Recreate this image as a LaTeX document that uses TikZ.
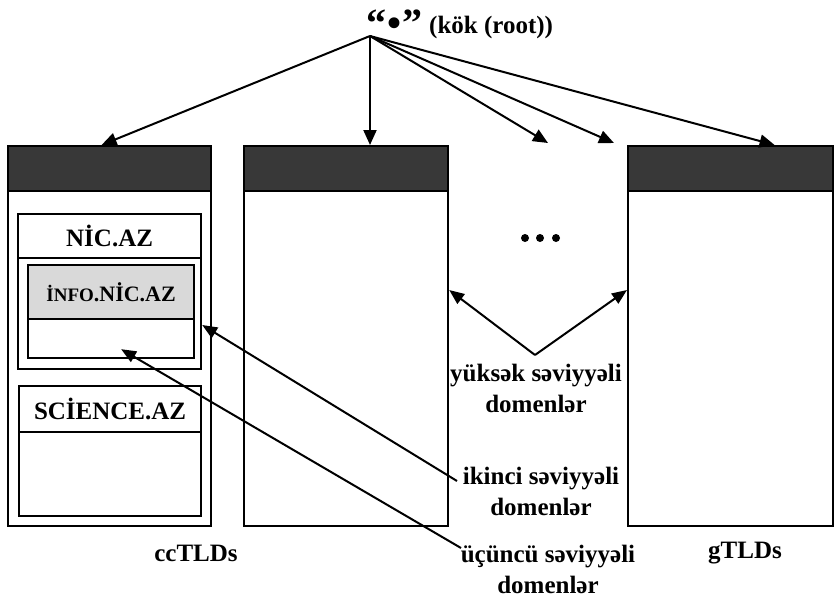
\documentclass[tikz,border=0pt]{standalone}
\usepackage{fontspec}
\setmainfont{Liberation Serif}
\usetikzlibrary{arrows.meta}
\begin{document}
\begin{tikzpicture}[x=1pt,y=-1pt,
  lab/.style={font=\bfseries\fontsize{25}{31}\selectfont, align=center, inner sep=0pt},
  frame/.style={draw, line width=2.2pt, anchor=north west, inner sep=0pt},
  hdr/.style={frame, fill=black!78, minimum height=45pt},
  arr/.style={line width=2pt, -{Triangle[length=15pt,width=13pt]}},
  link/.style={line width=2pt, -{Triangle[length=15pt,width=12pt]}},
  dot/.style={circle, fill, inner sep=0pt, minimum size=8pt},
]
\useasboundingbox (0,0) rectangle (839,597);

% root of the name space
\node[anchor=base west, inner sep=0pt, font=\bfseries\fontsize{40}{40}\selectfont] (rootq) at (366,36) {“\kern1pt•\kern1pt”};
\node[anchor=base west, inner sep=0pt, font=\bfseries\fontsize{25}{25}\selectfont] (rootl) at (429,33) {(kök (root))};
\coordinate (rp) at (370,36);

% top level domain columns
\node[frame, minimum width=203pt, minimum height=380pt] (ccBox) at (7,145) {};
\node[hdr, minimum width=203pt] (ccHead) at (7,145) {};
\node[frame, minimum width=204pt, minimum height=380pt] (midBox) at (243,145) {};
\node[hdr, minimum width=204pt] (midHead) at (243,145) {};
\node[frame, minimum width=205pt, minimum height=380pt] (genBox) at (627,145) {};
\node[hdr, minimum width=205pt] (genHead) at (627,145) {};

% second and third level domains inside the ccTLD column
\node[frame, minimum width=183pt, minimum height=155pt] (nicBox) at (17,213) {};
\node[frame, lab, minimum width=183pt, minimum height=44pt] (nicHead) at (17,213) {NİC.AZ};
\node[frame, minimum width=166pt, minimum height=93pt] (infoBox) at (27,264) {};
\node[frame, fill=black!15, minimum width=166pt, minimum height=54pt,
      font=\bfseries] (infoHead) at (27,264)
      {\fontsize{19}{19}\selectfont İNFO\fontsize{22}{22}\selectfont.NİC.AZ};
\node[frame, minimum width=182pt, minimum height=130pt] (sciBox) at (18,385) {};
\node[frame, lab, minimum width=182pt, minimum height=46pt] (sciHead) at (18,385) {SCİENCE.AZ};

% ellipsis between the columns
\node[dot] (d1) at (525,238) {};
\node[dot] (d2) at (540,238) {};
\node[dot] (d3) at (556,238) {};

% arrows from the root
\coordinate (free1) at (548,143);
\coordinate (free2) at (614,143);
\draw[arr] (rp) -- ([xshift=-8pt]ccHead.north);
\draw[arr] (rp) -- (rp |- midHead.north);
\draw[arr] (rp) -- (free1);
\draw[arr] (rp) -- (free2);
\draw[arr] (rp) -- ([xshift=44pt]genHead.north);

% level labels
\node[lab] (yuk) at (536,388) {yüksək səviyyəli\\domenlər};
\node[lab] (iki) at (541,491) {ikinci səviyyəli\\domenlər};
\node[lab] (ucu) at (548,569) {üçüncü səviyyəli\\domenlər};
\node[lab] (cc) at (196,553) {ccTLDs};
\node[lab] (gt) at (745,553) {gTLDs};

\coordinate (yukTip) at (535,355);
\coordinate (ikiFoot) at (457,481);
\coordinate (ucuFoot) at (461,548);
\draw[link] (yukTip) -- (midBox.east |- 0,290);
\draw[link] (yukTip) -- (genBox.west |- 0,290);
\draw[link] (ikiFoot) -- (nicBox.east |- 0,325);
\draw[link] (ucuFoot) -- ([xshift=10pt,yshift=10pt]infoBox.south);
\end{tikzpicture}
\end{document}
